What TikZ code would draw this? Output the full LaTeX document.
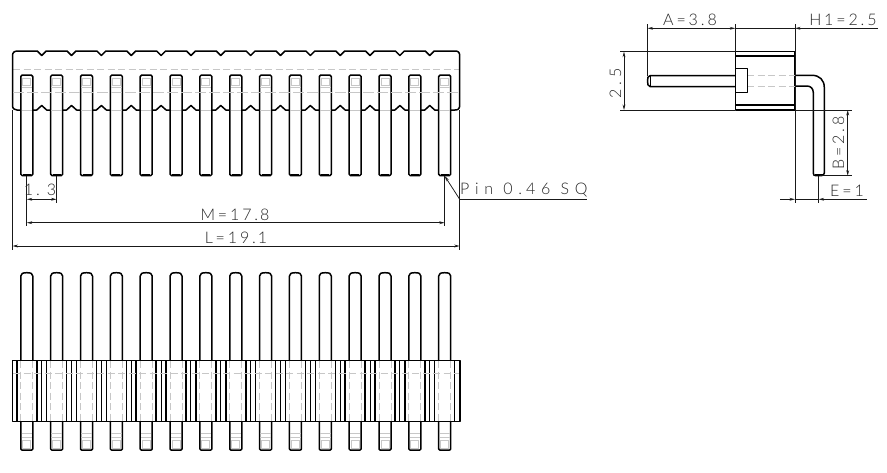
\documentclass[tikz,border=0pt]{standalone}
\usepackage{fontspec}
\setmainfont{Lato}[UprightFont=* Light,LetterSpace=18]
\newfontfamily\widelab{Lato}[UprightFont=* Light,LetterSpace=36]
\usetikzlibrary{arrows.meta}
\definecolor{ghost}{gray}{0.78}
\definecolor{inkdim}{gray}{0.1}
\tikzset{
  x=1pt,y=-1pt,
  outline/.style={draw=black,line width=1.5pt,line join=round},
  thinout/.style={draw=black,line width=1pt},
  hidden/.style={draw=ghost,line width=0.9pt,dash pattern=on 7pt off 3.5pt},
  ghostline/.style={draw=ghost,line width=0.9pt},
  dimline/.style={draw=inkdim,line width=0.75pt},
  tipped/.style={dimline,{Stealth[length=5.5pt,width=2.8pt]}-{Stealth[length=5.5pt,width=2.8pt]}},
  tipend/.style={dimline,-{Stealth[length=5.5pt,width=2.8pt]}},
  lab/.style={inner sep=0pt,text=black!85,font=\fontsize{16}{17}\selectfont},
}
\begin{document}
\begin{tikzpicture}
\useasboundingbox (0,0) rectangle (887,472);
\fill[white] (0,0) rectangle (887,472);
% ---------- top view: housing
\draw[hidden] (13,69) -- (459,69);
\draw[outline] (12.5,57) -- (12.5,56) .. controls (12.5,52.5) and (14,51) .. (18,51)
  \foreach \n in {0,...,13}{ -- ({41.7+29.85*\n-4.5},51) -- ({41.7+29.85*\n},55.5) -- ({41.7+29.85*\n+4.5},51) }
  -- (455,51) .. controls (458.5,51) and (459.7,52.5) .. (459.7,56)
  -- (459.7,105) .. controls (459.7,108.5) and (458.5,110) .. (455,110)
  \foreach \n in {13,12,...,0}{ -- ({41.7+29.85*\n+5},110) -- ({41.7+29.85*\n},105.5) -- ({41.7+29.85*\n-5},110) }
  -- (17,110) .. controls (14,110) and (12.5,108.5) .. (12.5,105) -- (12.5,57);
% ---------- top view and bottom view: pins
\foreach \n in {0,...,14}{
  \pgfmathsetmacro{\c}{26.8+29.85*\n}
  % top view
  \draw[outline,fill=white,rounded corners=1.5pt] (\c-6,75) rectangle (\c+6,175.7);
  \draw[ghostline] (\c-4,78) rectangle (\c+4,85);
  \draw[ghostline] (\c-5.2,87) -- (\c+5.2,87);
  \draw[ghostline] (\c-5.2,110) -- (\c+5.2,110);
  \draw[thinout] (\c-4,174) -- (\c+4,174);
  % bottom view: long pin
  \draw[outline,fill=white] (\c-6,360.7) -- (\c-6,276) .. controls (\c-6,273.5) and (\c-4,272.7) .. (\c,272.7)
     .. controls (\c+4,272.7) and (\c+6,273.5) .. (\c+6,276) -- (\c+6,360.7);
  % bottom view: stub
  \draw[outline,fill=white,rounded corners=1pt] (\c-6,421.3) -- (\c-6,450) -- (\c+6,450) -- (\c+6,421.3);
  \draw[ghostline] (\c-5.2,433) -- (\c+5.2,433);
  \draw[ghostline] (\c-5.2,437) -- (\c+5.2,437);
  \draw[ghostline] (\c-4,440) rectangle (\c+4,448);
}
\draw[ghostline,line width=.7pt,dash pattern=on 11pt off 3pt] (13,92) -- (459,92);
% ---------- bottom view: housing
\foreach \n in {0,...,14}{
  \pgfmathsetmacro{\c}{26.8+29.85*\n}
  \draw[hidden] (\c-6,361) -- (\c-6,421);
  \draw[hidden] (\c+6,361) -- (\c+6,421);
  \draw[outline] (\c-10,361) -- (\c-10,421);
  \draw[outline] (\c+10,361) -- (\c+10,421);
}
\foreach \n in {0,...,13}{
  \pgfmathsetmacro{\c}{41.7+29.85*\n}
  \draw[thinout] (\c,361) -- (\c,421);
}
\draw[hidden,line width=.7pt] (13,373) -- (459,373);
\draw[outline] (12.5,360.7) rectangle (460,421.3);
% ---------- top view dimensions
\coordinate (pa) at (26.8,176);
\coordinate (pb) at (56.65,176);
\coordinate (pz) at (444.7,176);
\coordinate (ll) at (12.5,110);
\coordinate (lr) at (459.7,110);
\draw[dimline] (pa) -- (26.8,226);
\draw[dimline] (pb) -- (56.65,203);
\draw[dimline] (pz) -- (444.7,226);
\draw[dimline] (ll) -- (12.5,250);
\draw[dimline] (lr) -- (459.7,250);
\draw[tipped] (26.8,199.3) -- (56.65,199.3);
\draw[tipped] (26.8,222.7) -- (444.7,222.7);
\draw[tipped] (12.5,246) -- (459.7,246);
\coordinate (lead) at (459.7,199.3);
\draw[tipend] (lead) -- (pz);
\draw[dimline] (lead) -- (587,199.3);
\node[lab] (t13) at (40,189.5) {1.\kern7pt 3};
\node[lab] (tm) at (235,214.5) {M=17.\kern2pt 8};
\node[lab] (tl) at (236,237.5) {L=19.\kern2pt 1};
\node[lab,anchor=west] (tpin) at (460,190.5) {\widelab Pin 0.\kern4pt 46 SQ};
% ---------- side view
\draw[outline] (735.3,51.7) rectangle (795,110);
\draw[outline] (735.3,56) -- (795,56);
\draw[outline] (735.3,105) -- (795,105);
\draw[hidden] (747,75.7) -- (795,75.7);
\draw[hidden] (747,86) -- (795,86);
\draw[outline] (735.3,68.7) -- (747.3,68.7) -- (747.3,92.3) -- (735.3,92.3);
\draw[outline] (735.3,75.7) -- (650,75.7) .. controls (648,75.7) and (647.5,78) .. (647.5,81)
  .. controls (647.5,84) and (648,86.5) .. (650,86.5) -- (735.3,86.5);
\draw[thinout] (650,76) -- (650,86);
\draw[outline] (795,75.3) -- (812,75.3) .. controls (819.5,75.3) and (824.3,80) .. (824.3,87.5)
  -- (824.3,173) .. controls (824.3,175) and (823,175.7) .. (821,175.7) -- (816,175.7)
  .. controls (814,175.7) and (813.3,175) .. (813.3,173) -- (813.3,92.5)
  .. controls (813.3,88.5) and (810.5,86) .. (807,86) -- (795,86);
\draw[thinout] (815,174) -- (822.5,174);
% ---------- side view dimensions
\coordinate (sa) at (647.5,76);
\coordinate (sb) at (735.3,51.7);
\coordinate (sc) at (795,51.7);
\coordinate (se) at (818.6,176);
\draw[dimline] (sa) -- (647.5,24);
\draw[dimline] (sb) -- (735.3,24);
\draw[dimline] (795,24) -- (795,203);
\draw[dimline] (se) -- (818.6,203);
\draw[dimline] (sb) -- (620,51.7);
\draw[dimline] (735.3,110) -- (620,110);
\draw[dimline] (795,110) -- (852,110);
\draw[dimline] (820,175.7) -- (852,175.7);
\draw[tipped] (647.5,28.3) -- (735.3,28.3);
\draw[dimline] (735.3,28.3) -- (795,28.3);
\draw[tipend] (878,28.3) -- (795,28.3);
\draw[tipped] (624,51.7) -- (624,110);
\draw[tipped] (847.7,110) -- (847.7,175.7);
\draw[tipend] (780,199.3) -- (795,199.3);
\draw[tipend] (866.7,199.3) -- (818.6,199.3);
\draw[dimline] (795,199.3) -- (818.6,199.3);
\node[lab] (ta) at (690,20) {A=3.\kern3pt 8};
\node[lab] (th) at (843,19.5) {H1=2.\kern3pt 5};
\node[lab,rotate=90] (t25) at (615.5,83) {2.\kern5pt 5};
\node[lab,rotate=90] (tb) at (838.5,143) {B=2.\kern3pt 8};
\node[lab] (te) at (847,191) {E=1};
\end{tikzpicture}
\end{document}
